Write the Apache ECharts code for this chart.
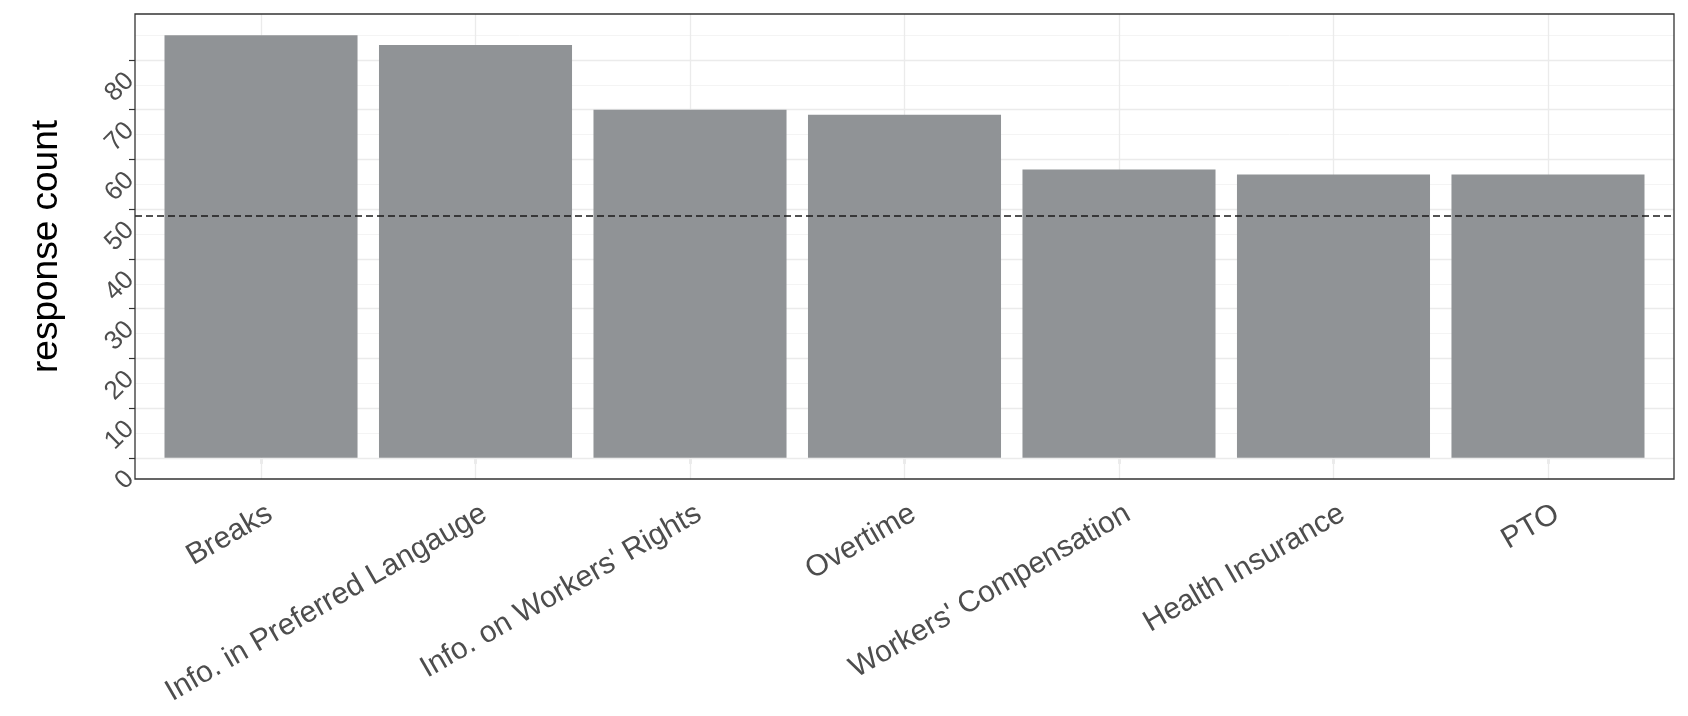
<!DOCTYPE html>
<html><head><meta charset="utf-8">
<script src="https://cdn.jsdelivr.net/npm/echarts@6/dist/echarts.min.js"></script>
<style>html,body{margin:0;padding:0;background:#fff}#c{width:1688px;height:716px}</style>
</head><body><div id="c"></div>
<script>
const categories = ["Breaks", "Info. in Preferred Langauge", "Info. on Workers' Rights", "Overtime", "Workers' Compensation", "Health Insurance", "PTO"];
const responseCounts = [85, 83, 70, 69, 58, 57, 57];
const thresholdValue = 48.6;
const yTickValues = [0, 10, 20, 30, 40, 50, 60, 70, 80];
const yMinorValues = [5, 15, 25, 35, 45, 55, 65, 75, 85];
const yMin = -4.25;
const yMax = 89.25;

const W = 1688;
const P = { left: 135, right: 14, top: 14, bottom: 237 };
const pad = 0.1 * (W - P.left - P.right) / (categories.length + 1.2);

const chart = echarts.init(document.getElementById('c'), null, { renderer: 'canvas' });
const FONT = 'Liberation Sans, Arial, sans-serif';

chart.setOption({
  animation: false,
  backgroundColor: '#ffffff',
  grid: [
    { left: P.left, right: P.right, top: P.top, bottom: P.bottom, show: true, backgroundColor: 'transparent', borderColor: '#333333', borderWidth: 1.3, z: 20 },
    { left: P.left + pad, right: P.right + pad, top: P.top, bottom: P.bottom }
  ],
  xAxis: [
    { gridIndex: 0, type: 'value', min: 0, max: 1, show: false },
    {
      gridIndex: 1, type: 'category', data: categories,
      axisLine: { show: false },
      axisTick: { show: true, alignWithLabel: true, length: 6, lineStyle: { color: '#333333', width: 1.2 } },
      axisLabel: { interval: 0, rotate: 30, margin: 17, fontSize: 30, lineHeight: 36, verticalAlign: 'top', color: '#4d4d4d', fontFamily: FONT },
      splitLine: { show: false }
    }
  ],
  yAxis: [
    {
      gridIndex: 0, type: 'value', min: yMin, max: yMax,
      axisLine: { show: false },
      axisTick: { show: true, customValues: yTickValues, length: 6, lineStyle: { color: '#333333', width: 1.2 } },
      axisLabel: {
        customValues: yTickValues, rotate: 45, margin: 22, fontSize: 26, color: '#4d4d4d', fontFamily: FONT,
        verticalAlign: 'top', lineHeight: 48,
        formatter: v => (v % 10 === 0 ? String(v) : '')
      },
      splitLine: { show: false },
      name: 'response count', nameLocation: 'middle', nameGap: 70, nameRotate: 90,
      nameTextStyle: { fontSize: 37, color: '#000000', fontFamily: FONT }
    },
    { gridIndex: 1, type: 'value', min: yMin, max: yMax, show: false }
  ],
  series: [
    {
      type: 'line', xAxisIndex: 0, yAxisIndex: 0, data: [], z: 1, silent: true,
      markLine: {
        silent: true, symbol: 'none', z: 1, animation: false,
        label: { show: false },
        data: yMinorValues.map(v => ({ yAxis: v, lineStyle: { color: '#f4f4f4', width: 1, type: 'solid' } }))
          .concat(yTickValues.map(v => ({ yAxis: v, lineStyle: { color: '#ebebeb', width: 1.3, type: 'solid' } })))
      }
    },
    {
      type: 'line', xAxisIndex: 1, yAxisIndex: 1, data: [], z: 1, silent: true,
      markLine: {
        silent: true, symbol: 'none', z: 1, animation: false,
        label: { show: false },
        lineStyle: { color: '#ebebeb', width: 1.3, type: 'solid' },
        data: categories.map(c => ({ xAxis: c }))
      }
    },
    {
      type: 'bar', xAxisIndex: 1, yAxisIndex: 1, data: responseCounts, z: 3,
      barCategoryGap: '10%',
      itemStyle: { color: '#909396' }
    },
    {
      type: 'line', xAxisIndex: 0, yAxisIndex: 0, data: [], z: 10, silent: true,
      markLine: {
        silent: true, symbol: 'none', z: 10, animation: false,
        label: { show: false },
        lineStyle: { color: '#1a1a1a', width: 1.6, type: [7, 4] },
        data: [{ yAxis: thresholdValue }]
      }
    }
  ]
});
</script>
</body></html>
